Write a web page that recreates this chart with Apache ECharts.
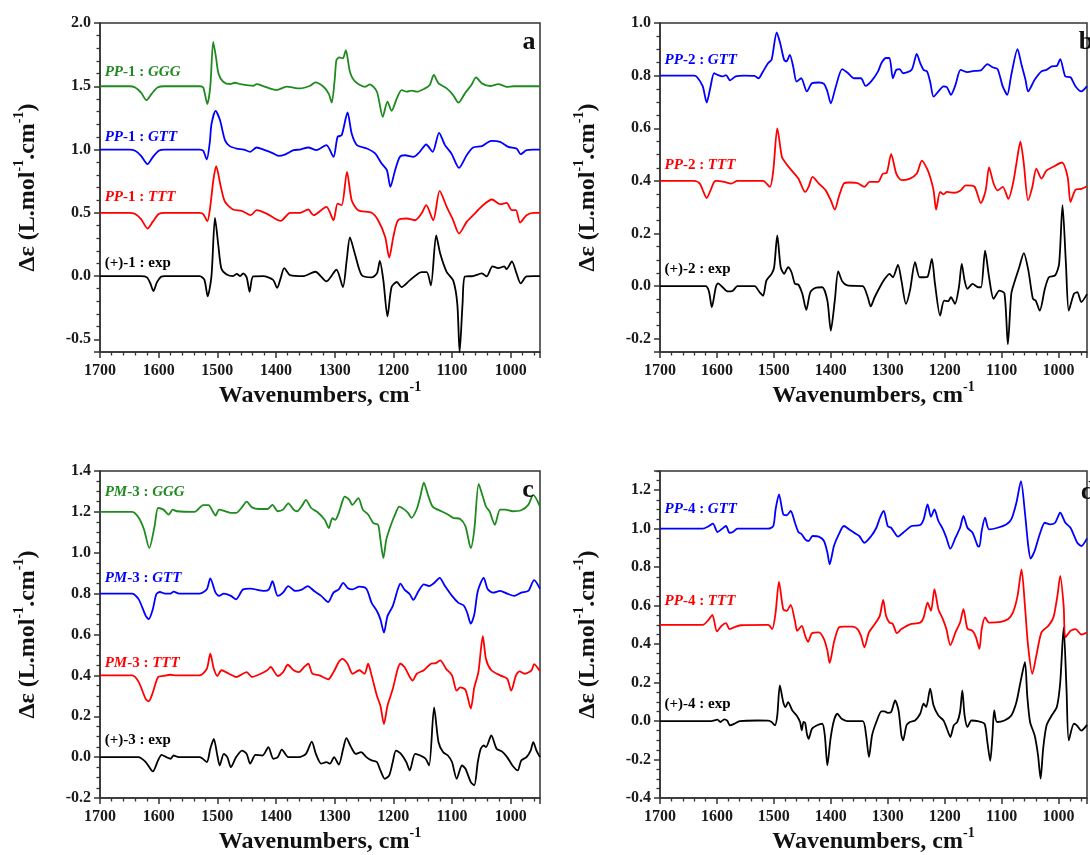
<!DOCTYPE html>
<html>
<head>
<meta charset="utf-8">
<script src="https://cdn.jsdelivr.net/npm/echarts@6/dist/echarts.min.js"></script>
<style>
html, body { margin: 0; padding: 0; background: #fff; }
#chart { width: 1090px; height: 855px; }
</style>
</head>
<body>
<div id="chart"></div>
<script>
// spectra: [wavenumber, delta epsilon]
var aGGG = [[1700,1.5],[1650,1.5],[1640,1.49],[1630,1.45],[1621,1.39],[1612,1.44],[1602,1.49],[1590,1.5],[1530,1.5],[1524,1.49],[1517,1.36],[1512,1.5],[1507,1.85],[1502,1.72],[1498,1.6],[1490,1.536],[1478,1.517],[1470,1.528],[1461,1.517],[1439,1.504],[1433,1.517],[1422,1.502],[1399,1.47],[1382,1.497],[1359,1.483],[1342,1.504],[1333,1.531],[1319,1.496],[1310,1.44],[1305,1.37],[1300,1.55],[1297,1.707],[1292,1.728],[1286,1.72],[1281,1.786],[1274,1.615],[1265,1.536],[1248,1.496],[1240,1.515],[1228,1.457],[1218,1.259],[1210,1.378],[1203,1.306],[1194,1.404],[1186,1.47],[1177,1.457],[1169,1.465],[1160,1.457],[1146,1.483],[1138,1.51],[1131,1.589],[1123,1.523],[1109,1.483],[1098,1.43],[1089,1.37],[1078,1.444],[1067,1.51],[1059,1.57],[1049,1.523],[1035,1.502],[1021,1.517],[1007,1.496],[995,1.5],[950,1.5]];
var aGTT = [[1700,1],[1650,1],[1640,0.99],[1630,0.95],[1619,0.885],[1610,0.94],[1600,0.99],[1590,1],[1530,1],[1524,0.99],[1518,0.921],[1513,1.05],[1510,1.2],[1503,1.306],[1495.5,1.233],[1487,1.074],[1479,1.027],[1467,1.008],[1455,1.0],[1444,0.982],[1433,1.016],[1419,0.995],[1405,0.97],[1396,0.95],[1385,0.96],[1370,0.995],[1359,1.0],[1345,1.016],[1331,0.995],[1314,1.035],[1302,0.942],[1295,1.1],[1288,1.114],[1278,1.293],[1271,1.127],[1262,1.035],[1245,1.008],[1231,0.969],[1220,0.889],[1211,0.837],[1205,0.705],[1197,0.837],[1189,0.942],[1180,0.955],[1166,0.942],[1155,0.982],[1144,1.04],[1133,0.982],[1122,1.132],[1112,1.035],[1101,0.969],[1088,0.855],[1075,0.955],[1064,1.016],[1049,1.027],[1033,1.069],[1018,1.061],[1004,1.021],[990,1.008],[983,0.963],[973,0.995],[961,1.0],[950,1.0]];
var aTTT = [[1700,0.5],[1650,0.5],[1640,0.49],[1630,0.45],[1619,0.376],[1610,0.43],[1600,0.49],[1590,0.5],[1530,0.5],[1524,0.49],[1517,0.434],[1512,0.55],[1507,0.75],[1502,0.869],[1494,0.705],[1487,0.587],[1473,0.526],[1458.5,0.515],[1443,0.481],[1433,0.521],[1416,0.494],[1392,0.436],[1376,0.5],[1359,0.5],[1345,0.526],[1336,0.481],[1314,0.547],[1302,0.441],[1295,0.573],[1288,0.56],[1279,0.823],[1271,0.6],[1260,0.52],[1237,0.5],[1226,0.441],[1214,0.31],[1207,0.146],[1200,0.31],[1192,0.441],[1177,0.455],[1163,0.441],[1152,0.494],[1144,0.56],[1132,0.441],[1121,0.673],[1109,0.547],[1098,0.441],[1088,0.336],[1075,0.428],[1064,0.481],[1049,0.552],[1032,0.605],[1018,0.568],[1007,0.578],[998,0.521],[991,0.521],[984,0.423],[973,0.481],[961,0.5],[950,0.5]];
var aExp = [[1700,0],[1630,0],[1620,-0.01],[1614,-0.06],[1609,-0.118],[1603,-0.05],[1596,-0.005],[1590,0],[1530,0],[1522,-0.03],[1516.5,-0.16],[1510,0.0],[1504,0.46],[1498,0.23],[1493,0.058],[1484,0.013],[1473,0],[1467,0.018],[1461,0],[1456,0.021],[1450,-0.01],[1445,-0.124],[1439,-0.003],[1422,0],[1405,-0.03],[1398,-0.094],[1392,-0.016],[1386,0.063],[1376,0.008],[1353,0],[1333,0.034],[1314,-0.042],[1297,0.05],[1286,-0.087],[1279.5,0.124],[1274,0.305],[1265,0.166],[1254,0.008],[1237,-0.011],[1228,0.021],[1223,0.119],[1217,-0.034],[1210,-0.319],[1203,-0.087],[1194,-0.047],[1186,-0.087],[1172,-0.034],[1152,0.032],[1143,0.032],[1136,-0.074],[1127,0.322],[1120,0.177],[1109,0.032],[1098,-0.034],[1091,-0.218],[1087,-0.6],[1082,-0.218],[1078,-0.003],[1064,0],[1049,0.021],[1041,-0.003],[1031,0.076],[1021,0.063],[1011,0.076],[1007,0.055],[998,0.116],[990,0.021],[983,-0.058],[973,-0.003],[961,0],[950,0]];

var bGTT = [[1700,0.8],[1640,0.8],[1635,0.795],[1625,0.76],[1618,0.698],[1612,0.75],[1605,0.809],[1599,0.803],[1590,0.797],[1584,0.802],[1577,0.782],[1567,0.797],[1552,0.8],[1534,0.799],[1527,0.79],[1519,0.816],[1510,0.848],[1504,0.86],[1495,0.964],[1489,0.924],[1482,0.86],[1478,0.854],[1472,0.879],[1466,0.834],[1460,0.777],[1452,0.79],[1442,0.74],[1433,0.771],[1421,0.774],[1412,0.769],[1406,0.74],[1400,0.695],[1392,0.752],[1380,0.825],[1371,0.812],[1359,0.79],[1347,0.79],[1339,0.761],[1329,0.778],[1317,0.816],[1311,0.848],[1303,0.867],[1297,0.867],[1291,0.79],[1285,0.822],[1279,0.825],[1273,0.809],[1258,0.822],[1249,0.883],[1243,0.848],[1237,0.822],[1231,0.816],[1225.5,0.777],[1219.5,0.72],[1211,0.74],[1202,0.759],[1196,0.756],[1189,0.727],[1181,0.765],[1172,0.822],[1160,0.813],[1148,0.818],[1136.5,0.82],[1125,0.844],[1116,0.832],[1107,0.825],[1098,0.759],[1090,0.727],[1083,0.803],[1072,0.901],[1065,0.841],[1058,0.784],[1053.5,0.74],[1042,0.784],[1030,0.816],[1021,0.822],[1012,0.835],[1003,0.837],[997,0.863],[988,0.797],[979,0.794],[970,0.759],[960,0.74],[950,0.76]];
var bTTT = [[1700,0.4],[1640,0.4],[1630,0.39],[1624,0.36],[1618,0.335],[1612,0.36],[1605,0.396],[1600,0.4],[1587,0.396],[1575,0.39],[1564,0.4],[1519,0.4],[1507,0.377],[1501,0.44],[1494,0.6],[1486,0.492],[1480.5,0.472],[1469,0.44],[1457,0.409],[1445,0.358],[1439,0.377],[1432,0.415],[1421,0.39],[1409,0.364],[1400,0.326],[1393,0.291],[1386,0.339],[1377,0.39],[1368,0.394],[1353,0.392],[1341,0.377],[1332,0.396],[1317,0.396],[1308.5,0.428],[1302,0.43],[1294,0.502],[1285,0.428],[1276,0.403],[1261,0.409],[1249,0.428],[1240,0.477],[1231,0.447],[1225.5,0.415],[1219.5,0.364],[1215,0.291],[1208,0.358],[1202,0.349],[1196,0.358],[1184,0.355],[1172,0.364],[1163,0.383],[1148,0.379],[1136.5,0.316],[1128,0.364],[1122,0.451],[1114,0.39],[1107,0.364],[1098,0.377],[1088,0.332],[1080,0.39],[1074,0.466],[1067,0.549],[1061,0.466],[1053.5,0.326],[1046,0.377],[1039,0.447],[1030,0.409],[1021,0.44],[1010,0.453],[994,0.47],[984,0.415],[979,0.32],[970,0.367],[960,0.37],[950,0.38]];
var bExp = [[1700,0],[1620,0],[1614,-0.02],[1609,-0.08],[1602,-0.004],[1598,0.011],[1590,-0.004],[1581,-0.02],[1572,-0.017],[1564,0],[1534,0],[1525,-0.023],[1519,-0.036],[1513,0.022],[1504,0.047],[1499.5,0.072],[1494,0.193],[1488,0.072],[1482,0.047],[1475,0.072],[1469,0.053],[1463,0.009],[1457,0.006],[1450,-0.029],[1443,-0.09],[1436,-0.023],[1427,-0.006],[1415,-0.004],[1406,-0.055],[1400,-0.169],[1393,-0.055],[1387,0.056],[1380,0.019],[1371,0.003],[1344,0],[1335,-0.042],[1330,-0.077],[1323,-0.042],[1314,-0.004],[1308,0.019],[1303,0.034],[1297,0.047],[1291,0.034],[1282,0.081],[1276,0.022],[1268,-0.067],[1261,-0.017],[1252,0.091],[1244,0.034],[1237,0.034],[1230,0.036],[1222.5,0.104],[1217,0.009],[1208,-0.112],[1201,-0.055],[1194,-0.057],[1189,-0.042],[1182,-0.067],[1175,-0.004],[1170,0.085],[1165,0.022],[1160,-0.01],[1151,0.009],[1141,-0.004],[1136,-0.004],[1129,0.135],[1122,0.034],[1114,-0.048],[1104,-0.017],[1095,-0.027],[1089,-0.22],[1083,-0.029],[1077.5,0.015],[1069,0.072],[1061,0.126],[1053,0.06],[1045,-0.048],[1040,-0.055],[1033,-0.093],[1024,-0.01],[1017,0.034],[1006,0.041],[999,0.085],[993,0.308],[987,0.085],[982,-0.093],[973,-0.029],[967,-0.023],[960,-0.06],[950,-0.03]];

var cGGG = [[1700,1.2],[1645,1.2],[1634,1.171],[1625,1.114],[1616,1.023],[1607,1.129],[1601,1.219],[1592,1.211],[1583,1.187],[1576,1.211],[1569,1.203],[1539,1.2],[1524,1.233],[1515,1.233],[1508,1.203],[1503,1.182],[1497,1.211],[1486,1.203],[1477,1.195],[1468,1.195],[1459,1.219],[1450,1.25],[1441,1.222],[1429,1.214],[1415,1.214],[1406,1.234],[1397,1.203],[1388,1.211],[1379,1.242],[1370,1.211],[1364,1.203],[1355,1.233],[1349,1.259],[1340,1.219],[1329,1.198],[1317,1.161],[1310,1.121],[1304,1.169],[1299,1.161],[1293,1.195],[1287,1.25],[1283,1.275],[1275,1.259],[1270,1.234],[1259.5,1.267],[1252,1.211],[1243,1.187],[1234,1.145],[1226,1.137],[1222,1.064],[1217,0.974],[1212,1.064],[1204,1.137],[1195.5,1.198],[1190,1.226],[1181,1.211],[1175,1.195],[1169,1.171],[1160,1.214],[1154,1.275],[1148,1.343],[1141,1.283],[1133,1.226],[1118,1.203],[1107,1.187],[1098,1.171],[1086,1.165],[1077,1.129],[1068,1.023],[1062,1.112],[1054.5,1.337],[1047.5,1.275],[1042,1.226],[1036,1.202],[1027,1.137],[1018,1.211],[1009,1.211],[997,1.203],[982,1.208],[970,1.234],[961.5,1.283],[950,1.226]];
var cGTT = [[1700,0.8],[1645,0.8],[1634,0.772],[1622,0.691],[1617,0.675],[1610,0.724],[1604,0.797],[1598,0.808],[1589,0.8],[1580,0.8],[1574.5,0.81],[1565,0.8],[1530,0.8],[1518,0.821],[1512,0.875],[1503,0.805],[1497,0.789],[1489,0.8],[1477,0.789],[1468,0.772],[1456,0.821],[1444,0.824],[1420,0.813],[1412,0.821],[1406,0.861],[1397,0.789],[1388,0.805],[1379,0.837],[1367,0.813],[1355,0.821],[1346,0.837],[1335,0.813],[1323,0.789],[1311,0.759],[1302,0.805],[1293,0.821],[1285.5,0.853],[1278,0.828],[1269.5,0.821],[1258,0.834],[1246,0.824],[1237,0.755],[1228,0.715],[1222,0.674],[1216,0.609],[1210,0.69],[1201,0.739],[1192.5,0.82],[1188,0.849],[1181,0.82],[1172,0.797],[1166,0.769],[1157,0.813],[1148,0.845],[1139,0.837],[1130,0.853],[1121,0.877],[1112,0.837],[1100,0.789],[1089,0.755],[1080,0.742],[1074,0.706],[1068,0.653],[1062,0.698],[1056,0.813],[1046,0.877],[1039,0.821],[1030,0.805],[1018,0.813],[1006,0.8],[994,0.789],[982,0.805],[970,0.813],[960,0.866],[950,0.824]];
var cTTT = [[1700,0.4],[1645,0.4],[1634,0.367],[1622,0.284],[1617,0.273],[1610,0.316],[1601,0.392],[1592,0.397],[1580,0.403],[1570,0.4],[1530,0.4],[1518,0.432],[1512,0.506],[1506,0.432],[1500,0.397],[1493,0.425],[1480,0.408],[1468,0.392],[1450,0.416],[1441,0.392],[1426,0.408],[1415,0.425],[1409,0.441],[1397,0.397],[1388,0.416],[1380,0.452],[1370,0.425],[1361,0.416],[1352,0.441],[1345,0.457],[1338,0.408],[1326,0.4],[1311,0.381],[1302,0.416],[1293,0.465],[1287,0.481],[1278,0.457],[1269.5,0.408],[1258,0.425],[1249,0.408],[1243,0.457],[1237,0.4],[1228,0.3],[1222,0.251],[1216,0.162],[1210,0.251],[1201,0.333],[1192.5,0.432],[1188,0.457],[1181,0.441],[1172,0.392],[1167,0.375],[1160,0.408],[1148,0.425],[1136,0.457],[1127.5,0.46],[1120,0.473],[1110,0.432],[1100,0.4],[1092,0.325],[1086,0.341],[1077,0.329],[1068,0.238],[1062,0.341],[1055,0.416],[1047.5,0.592],[1042,0.479],[1033,0.425],[1018,0.4],[1006,0.384],[999,0.325],[991,0.4],[985,0.42],[976,0.408],[964.5,0.425],[960,0.455],[950,0.42]];
var cExp = [[1700,0],[1635,0],[1622,-0.024],[1610,-0.07],[1601,-0.016],[1595,0.011],[1587,0],[1580,-0.008],[1574.5,0.008],[1566,0],[1530,0],[1518,-0.024],[1512,0.041],[1506,0.089],[1500,0.008],[1496,-0.041],[1489,0.016],[1483,0],[1477,-0.049],[1468,0],[1458,0.032],[1450,0.016],[1444,-0.032],[1435,0.011],[1423,0.008],[1413,0.049],[1404.5,-0.008],[1397,0],[1390,0.037],[1379,0],[1361,0],[1349,0.016],[1339,0.076],[1332,0.016],[1323,-0.032],[1314,-0.024],[1308,-0.032],[1301,0],[1293,-0.037],[1285.5,0.041],[1280,0.093],[1272,0.049],[1264,0.016],[1255,0.024],[1246,0],[1237,-0.016],[1228,-0.024],[1222,-0.065],[1214.5,-0.106],[1207,-0.089],[1201,-0.024],[1195.5,0.032],[1187,0.016],[1178,-0.024],[1172,-0.065],[1163,0.016],[1154,0.008],[1145,-0.008],[1139,-0.041],[1130.5,0.243],[1123,0.073],[1115,0.024],[1107,0.008],[1100,-0.024],[1092,-0.106],[1083,-0.041],[1077,-0.057],[1068,-0.122],[1062,-0.138],[1056,-0.024],[1051,0.041],[1046,0.057],[1042,0.049],[1033,0.106],[1024,0.041],[1015,0.028],[1006,0],[997,-0.041],[988,-0.065],[982,-0.016],[973,0],[966,0.032],[961.5,0.073],[956,0.032],[950,0]];

var dGTT = [[1700,1],[1625,1],[1614,1.014],[1607,1.026],[1599,0.983],[1592,0.997],[1584,1.014],[1578,0.979],[1572,0.983],[1564,1],[1510,1.0],[1501,1.014],[1497,1.1],[1491,1.178],[1483.5,1.075],[1477.5,1.07],[1470.5,1.092],[1463,1.031],[1457,0.983],[1451,0.971],[1445,0.945],[1439,0.936],[1432,0.962],[1421,0.959],[1412,0.936],[1406,0.876],[1402,0.815],[1394.5,0.91],[1386,0.971],[1377,1.014],[1368,0.997],[1359,0.979],[1350,0.962],[1341,0.927],[1329,0.962],[1320,1.005],[1313,1.062],[1307,1.092],[1300,1.014],[1294,1.005],[1288,0.979],[1282,0.959],[1273,0.979],[1258,1.014],[1243,1.019],[1237,1.048],[1230,1.126],[1224,1.062],[1218,1.1],[1211,1.04],[1203,0.997],[1197,0.953],[1190,0.896],[1181,0.953],[1173,1.005],[1167,1.066],[1160,1.005],[1151,0.979],[1142,0.91],[1139,0.907],[1135,0.988],[1129,1.057],[1122,0.997],[1107,1.005],[1092,1.022],[1083,1.048],[1074,1.135],[1066,1.247],[1059,1.083],[1053.5,0.919],[1049,0.845],[1042,0.884],[1033,0.971],[1024,1.031],[1015,1.022],[1006,1.031],[997,1.083],[988,1.031],[979,1.005],[967,0.927],[960,0.91],[950,0.95]];
var dTTT = [[1700,0.5],[1625,0.5],[1614,0.529],[1608,0.552],[1600,0.466],[1592,0.495],[1584,0.509],[1578,0.478],[1571,0.486],[1558,0.498],[1510,0.5],[1503,0.478],[1497,0.563],[1491,0.724],[1483.5,0.581],[1477.5,0.573],[1470.5,0.604],[1463,0.521],[1459,0.469],[1451,0.495],[1445,0.443],[1440,0.412],[1433,0.457],[1421,0.461],[1412,0.426],[1406,0.366],[1402,0.302],[1394.5,0.409],[1386,0.486],[1377,0.491],[1362,0.491],[1353,0.478],[1347,0.443],[1341,0.383],[1333,0.461],[1323,0.503],[1314,0.547],[1308,0.63],[1303,0.547],[1297,0.512],[1291,0.505],[1284,0.457],[1276,0.478],[1261,0.503],[1243,0.512],[1237,0.538],[1230,0.616],[1224,0.573],[1218,0.686],[1211,0.581],[1203,0.529],[1197,0.478],[1190,0.395],[1181,0.461],[1173,0.512],[1167,0.582],[1160,0.481],[1151,0.469],[1145,0.435],[1139,0.375],[1135,0.478],[1129,0.539],[1122,0.512],[1101,0.516],[1089,0.529],[1080,0.565],[1072,0.651],[1065,0.789],[1059,0.599],[1053.5,0.392],[1046,0.246],[1039,0.34],[1030,0.461],[1018,0.495],[1009,0.539],[1002,0.651],[997,0.755],[991,0.599],[988,0.435],[979,0.469],[970,0.478],[960,0.45],[950,0.46]];
var dExp = [[1700,0],[1610,0],[1599,0.007],[1594,-0.005],[1587,0.009],[1582,0.002],[1577,-0.022],[1569.5,-0.014],[1560,0],[1528,0.003],[1510,0.002],[1504,-0.005],[1498,-0.022],[1494,0.029],[1489.5,0.185],[1483.5,0.098],[1479.5,0.073],[1475,0.098],[1467.5,0.055],[1460,0.029],[1454,-0.005],[1451,-0.048],[1448,-0.005],[1445,-0.01],[1442,-0.066],[1439,-0.092],[1433,-0.04],[1424,-0.022],[1415,-0.014],[1410.5,-0.074],[1406,-0.23],[1400.5,-0.092],[1394.5,0.003],[1388.5,0.038],[1381,0.012],[1371,0],[1344,0],[1338,-0.074],[1333,-0.187],[1327.5,-0.074],[1320,-0.005],[1311,0.05],[1305.5,0.05],[1300,0.043],[1294,0.047],[1287,0.107],[1281,0.055],[1276,-0.074],[1273,-0.1],[1267,-0.022],[1261,-0.005],[1252,0.003],[1243,0.038],[1237,0.09],[1232.5,0.073],[1225.5,0.168],[1219.5,0.081],[1211,0.029],[1202,0.003],[1196,-0.04],[1190,-0.083],[1184,-0.022],[1178,-0.005],[1173,0.047],[1169,0.159],[1165,0.029],[1160,-0.031],[1153,0.003],[1142,0],[1130,-0.014],[1125,-0.109],[1120,-0.207],[1116,-0.074],[1113,0.055],[1108,-0.005],[1095,0.003],[1083,0.029],[1074,0.098],[1068,0.185],[1059,0.306],[1055,0.133],[1050,-0.005],[1042,-0.074],[1036,-0.178],[1031.5,-0.299],[1027,-0.143],[1021,-0.022],[1012,0.029],[1003,0.073],[997,0.202],[991,0.487],[986,0.168],[982,-0.1],[973,-0.014],[968,-0.022],[960,-0.05],[950,-0.02]];

// curve labels: [method, compound, conformer] and the height they sit at
var aNames = [['PP', '-1', 'GGG'], ['PP', '-1', 'GTT'], ['PP', '-1', 'TTT'], ['(+)', '-1', 'exp']];
var aLabelY = [1.61, 1.1, 0.62, 0.1];
var bNames = [['PP', '-2', 'GTT'], ['PP', '-2', 'TTT'], ['(+)', '-2', 'exp']];
var bLabelY = [0.86, 0.46, 0.066];
var cNames = [['PM', '-3', 'GGG'], ['PM', '-3', 'GTT'], ['PM', '-3', 'TTT'], ['(+)', '-3', 'exp']];
var cLabelY = [1.296, 0.874, 0.458, 0.081];
var dNames = [['PP', '-4', 'GTT'], ['PP', '-4', 'TTT'], ['(+)', '-4', 'exp']];
var dLabelY = [1.104, 0.622, 0.09];

var panelLetters = ['a', 'b', 'c', 'd'];
var xTicks = [1700, 1600, 1500, 1400, 1300, 1200, 1100, 1000];

var GREEN = '#1f8a1f', BLUE = '#0000ff', RED = '#ff0000', BLACK = '#000000';
var FONT = 'Liberation Serif';
var AXIS_COLOR = '#333';

var panels = [
    {grid: {left: 100, top: 23, width: 440, height: 329},
     y: {min: -0.6, max: 2.0, splitNumber: 5, step: 0.5, minor: 5},
     series: [aGGG, aGTT, aTTT, aExp], colors: [GREEN, BLUE, RED, BLACK],
     names: aNames, labelY: aLabelY, letter: [529, 42]},
    {grid: {left: 660, top: 23, width: 440, height: 329},
     y: {min: -0.25, max: 1.0, splitNumber: 6, step: 0.2, minor: 4},
     series: [bGTT, bTTT, bExp], colors: [BLUE, RED, BLACK],
     names: bNames, labelY: bLabelY, letter: [1086, 42]},
    {grid: {left: 100, top: 471, width: 440, height: 328},
     y: {min: -0.2, max: 1.4, interval: 0.2, step: 0.2, minor: 4},
     series: [cGGG, cGTT, cTTT, cExp], colors: [GREEN, BLUE, RED, BLACK],
     names: cNames, labelY: cLabelY, letter: [528, 490]},
    {grid: {left: 660, top: 471, width: 440, height: 328},
     y: {min: -0.4, max: 1.3, interval: 0.2, step: 0.2, minor: 4},
     series: [dGTT, dTTT, dExp], colors: [BLUE, RED, BLACK],
     names: dNames, labelY: dLabelY, letter: [1088, 492]}
];

function stepFormatter(step) {
    return function (v) {
        var k = v / step;
        return Math.abs(k - Math.round(k)) < 1e-6 ? v.toFixed(1) : '';
    };
}

// rich styles for axis titles, "-1" raised as a superscript
var titleRich = {
    t: {fontFamily: FONT, fontWeight: 'bold', fontSize: 24, lineHeight: 28, verticalAlign: 'bottom', color: '#111'},
    s: {fontFamily: FONT, fontWeight: 'bold', fontSize: 14, lineHeight: 16, verticalAlign: 'top', color: '#111'}
};

var chart = echarts.init(document.getElementById('chart'), null, {renderer: 'canvas'});

var option = {
    animation: false,
    backgroundColor: '#fff',
    grid: [], xAxis: [], yAxis: [], series: []
};

panels.forEach(function (p, i) {
    option.grid.push({
        left: p.grid.left, top: p.grid.top, width: p.grid.width, height: p.grid.height,
        show: true, borderColor: AXIS_COLOR, borderWidth: 1.5, backgroundColor: 'transparent'
    });
    option.xAxis.push({
        type: 'value', gridIndex: i, inverse: true, min: 950, max: 1700, splitNumber: 7,
        name: '{t|Wavenumbers, cm}{s|-1}', nameLocation: 'middle', nameGap: 28,
        nameTextStyle: {rich: titleRich},
        axisLine: {onZero: false, lineStyle: {color: AXIS_COLOR, width: 1.5}},
        axisTick: {show: true, inside: false, length: 6, lineStyle: {color: AXIS_COLOR, width: 1.5}},
        minorTick: {show: true, splitNumber: 5, length: 3.5, lineStyle: {color: AXIS_COLOR, width: 1.3}},
        splitLine: {show: false},
        axisLabel: {
            margin: 11, fontFamily: FONT, fontWeight: 'bold', fontSize: 16, color: '#1a1a1a',
            formatter: function (v) { return xTicks.indexOf(v) >= 0 ? String(v) : ''; }
        }
    });
    var yAx = {
        type: 'value', gridIndex: i, min: p.y.min, max: p.y.max,
        name: '{t|\u0394\u03b5 (L.mol}{s|-1}{t|.cm}{s|-1}{t|)}', nameLocation: 'middle', nameGap: 60,
        nameRotate: 90,
        nameTextStyle: {rich: titleRich},
        axisLine: {onZero: false, lineStyle: {color: AXIS_COLOR, width: 1.5}},
        axisTick: {show: true, inside: false, length: 6, lineStyle: {color: AXIS_COLOR, width: 1.5}},
        minorTick: {show: true, splitNumber: p.y.minor, length: 3.5, lineStyle: {color: AXIS_COLOR, width: 1.3}},
        splitLine: {show: false},
        axisLabel: {
            margin: 9, fontFamily: FONT, fontWeight: 'bold', fontSize: 16, color: '#1a1a1a',
            formatter: stepFormatter(p.y.step)
        }
    };
    if (p.y.interval) yAx.interval = p.y.interval; else yAx.splitNumber = p.y.splitNumber;
    option.yAxis.push(yAx);

    p.series.forEach(function (data, k) {
        option.series.push({
            type: 'line', xAxisIndex: i, yAxisIndex: i, data: data,
            showSymbol: false, symbol: 'none', smooth: 0.25, clip: true,
            lineStyle: {color: p.colors[k], width: 1.8},
            itemStyle: {color: p.colors[k]},
            z: 10 - k
        });
    });
});

chart.setOption(option);

// curve labels placed at data coordinates near the left edge of each panel
var graphics = [];
panels.forEach(function (p, i) {
    p.names.forEach(function (nm, k) {
        var pt = chart.convertToPixel({gridIndex: i}, [1692, p.labelY[k]]);
        var isExp = nm[0] === '(+)';
        var txt = isExp ? '{u|' + nm[0] + nm[1] + ' : ' + nm[2] + '}'
                        : '{i|' + nm[0] + '}{u|' + nm[1] + ' : }{i|' + nm[2] + '}';
        var col = p.colors[k];
        graphics.push({
            type: 'text', x: pt[0], y: pt[1], z: 100,
            style: {
                text: txt, verticalAlign: 'middle', align: 'left',
                rich: {
                    i: {fontFamily: FONT, fontWeight: 'bold', fontStyle: 'italic', fontSize: 15, fill: col},
                    u: {fontFamily: FONT, fontWeight: 'bold', fontSize: 15, fill: col}
                }
            }
        });
    });
    graphics.push({
        type: 'text', x: p.letter[0], y: p.letter[1], z: 100,
        style: {
            text: panelLetters[i], align: 'center', verticalAlign: 'middle',
            font: 'bold 26px "Liberation Serif"', fill: '#111'
        }
    });
});
chart.setOption({graphic: graphics});
</script>
</body>
</html>
